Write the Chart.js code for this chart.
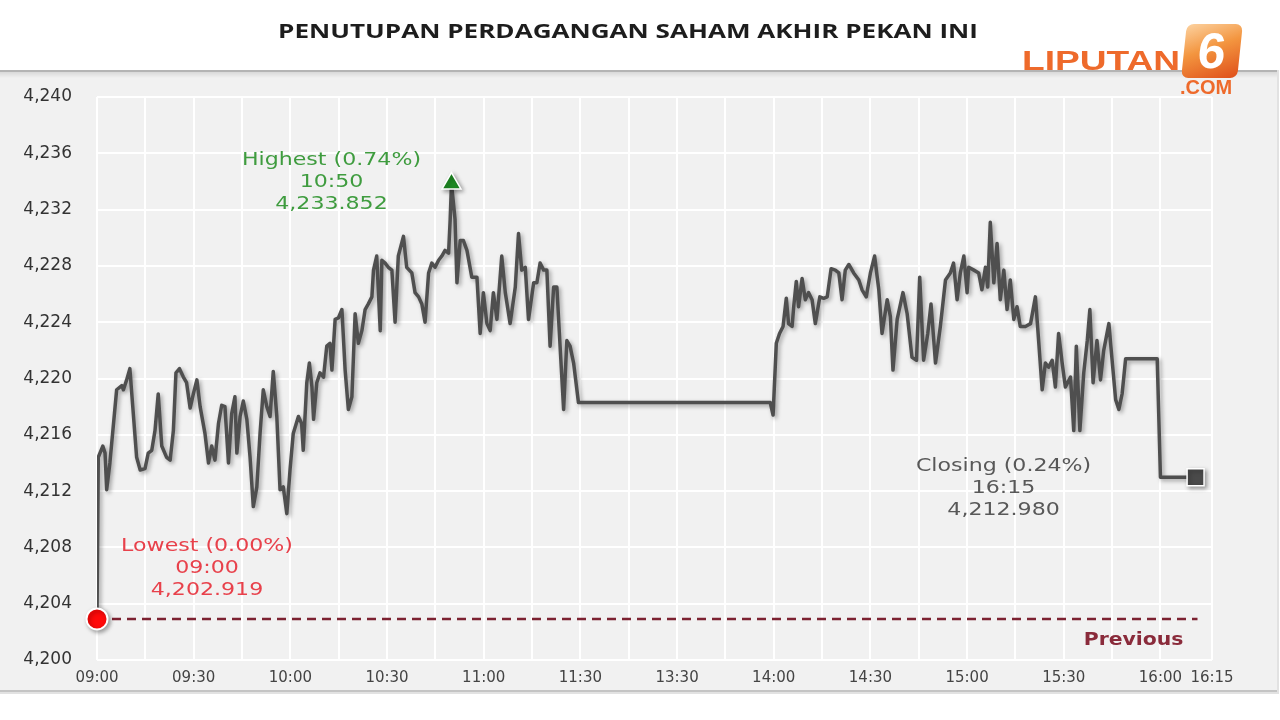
<!DOCTYPE html>
<html>
<head>
<meta charset="utf-8">
<title>Penutupan Perdagangan Saham Akhir Pekan Ini</title>
<script src="https://cdn.jsdelivr.net/npm/chart.js@4.4.1/dist/chart.umd.min.js"></script>
<style>
  html, body { margin: 0; padding: 0; background: #fff; }
  #wrap { position: relative; width: 1280px; height: 720px; overflow: hidden; }
  #chart { position: absolute; left: 0; top: 0; }
  #title {
    position: absolute; top: 18px; left: 628px;
    font-family: "Open Sans", sans-serif; font-weight: 700; font-size: 19px;
    color: #1d1d1d; white-space: nowrap; transform-origin: center;
  }
  .logo { position: absolute; color: #ee6a2b; font-family: "Liberation Sans", Arial, sans-serif; font-weight: 700; white-space: nowrap; }
  #lip { left: 1022px; top: 46px; font-size: 27px; transform-origin: left center; }
  #six {
    left: 1184px; top: 24px; width: 56px; height: 54px; border-radius: 7px;
    background: linear-gradient(160deg, #fcd2a0 0%, #f3953f 45%, #df4f1a 100%);
    color: #fff; font-size: 50px; line-height: 54px; text-align: center;
    transform: skewX(-6deg);
  }
  #com { left: 1180px; top: 76px; font-size: 20px; z-index: 2; }
</style>
</head>
<body>
<div id="wrap">
  <canvas id="chart" width="1280" height="720"></canvas>
  <div id="title">PENUTUPAN PERDAGANGAN SAHAM AKHIR PEKAN INI</div>
  <div class="logo" id="six">6</div>
  <div class="logo" id="lip">LIPUTAN</div>
  <div class="logo" id="com">.COM</div>
</div>
<script>
// minutes from 09:00 on the session axis (lunch break 11:30-13:30 folded into one 30 min slot)
var sessionMinutes = [
  0, 0.4, 1.8, 2.5, 3.0, 4.0, 6.1, 7.7, 8.2, 9.2, 10.2, 11.1, 12.3, 13.4, 14.9, 15.9, 17.0, 18.0, 19.0, 20.1,
  21.6, 22.7, 23.7, 24.5, 25.6, 26.8, 27.8, 28.9, 29.9, 31.0, 32.0, 33.5, 34.6, 35.6, 36.6, 37.7, 38.7, 39.7, 40.8, 41.8,
  42.8, 43.4, 44.4, 45.4, 46.5, 47.5, 48.5, 49.6, 50.6, 51.6, 52.7, 53.7, 54.7, 55.8, 56.8, 57.8, 58.9, 59.9, 60.9, 62.5,
  63.5, 64.0, 65.1, 65.9, 66.7, 67.2, 68.2, 69.2, 70.3, 71.3, 72.3, 72.9, 73.9, 74.9, 76.0, 77.0, 78.0, 79.1, 80.1, 81.1,
  82.2, 83.2, 84.2, 85.3, 85.8, 86.8, 87.9, 88.4, 89.4, 90.4, 91.5, 92.5, 93.5, 95.1, 96.1, 97.7, 98.7, 99.8, 100.8, 101.8,
  102.9, 103.9, 104.9, 106.0, 107.0, 108.0, 109.1, 109.6, 110.0, 111.1, 111.7, 112.7, 113.7, 114.8, 116.3, 117.9, 118.9, 119.9, 121.0, 122.0,
  123.0, 124.1, 125.6, 126.7, 128.2, 129.8, 130.8, 131.8, 132.9, 133.9, 135.5, 136.5, 137.5, 138.6, 139.6, 140.6, 141.7, 142.7, 143.7, 144.8,
  145.8, 146.8, 147.9, 149.4, 208.9, 209.8, 210.8, 211.8, 212.9, 213.9, 214.6, 215.7, 216.2, 217.0, 217.7, 218.8, 219.8, 220.8, 221.9, 222.9,
  224.3, 225.5, 226.6, 227.8, 229.1, 230.2, 231.2, 232.2, 233.3, 234.8, 236.4, 237.4, 238.7, 240.0, 241.3, 242.6, 243.6, 245.2, 246.2, 247.0,
  248.3, 250.1, 251.4, 252.9, 254.3, 255.3, 256.5, 257.8, 258.8, 260.2, 261.7, 263.3, 264.8, 265.8, 266.9, 267.9, 269.0, 270.0, 270.5, 272.1,
  273.6, 274.6, 275.7, 276.4, 277.2, 278.3, 279.3, 280.3, 281.4, 282.4, 283.4, 284.5, 285.5, 286.5, 288.1, 289.7, 291.2, 292.2, 293.3, 294.3,
  295.3, 296.4, 297.4, 298.4, 299.5, 300.5, 302.1, 303.1, 303.9, 305.0, 306.2, 307.3, 308.1, 309.1, 310.3, 311.4, 312.4, 314.0, 315.0, 316.1,
  317.1, 318.1, 319.2, 329.0, 330.0, 340.9
];
var indexValues = [
  4202.919, 4214.4, 4215.2, 4214.7, 4212.1, 4214.0, 4219.2, 4219.5, 4219.2, 4219.9, 4220.7, 4218.0, 4214.4, 4213.5, 4213.6, 4214.7, 4214.9, 4216.3, 4218.9, 4215.2,
  4214.4, 4214.2, 4216.3, 4220.4, 4220.7, 4220.1, 4219.7, 4217.9, 4218.9, 4219.9, 4218.0, 4216.1, 4214.0, 4215.2, 4214.2, 4216.8, 4218.1, 4218.0, 4214.0, 4217.5,
  4218.7, 4214.7, 4217.3, 4218.4, 4217.1, 4214.4, 4210.9, 4212.3, 4216.1, 4219.2, 4218.0, 4217.3, 4220.5, 4217.3, 4212.1, 4212.3, 4210.4, 4213.5, 4216.1, 4217.3,
  4216.8, 4214.9, 4219.7, 4221.1, 4219.4, 4217.1, 4219.7, 4220.4, 4220.1, 4222.3, 4222.5, 4220.6, 4224.2, 4224.3, 4224.9, 4220.6, 4217.8, 4218.7, 4224.6, 4222.5,
  4223.4, 4224.9, 4225.3, 4225.8, 4227.7, 4228.7, 4223.4, 4228.4, 4228.2, 4227.9, 4227.7, 4224.0, 4228.7, 4230.1, 4227.9, 4227.5, 4226.1, 4225.8, 4225.3, 4224.0,
  4227.5, 4228.2, 4227.9, 4228.4, 4228.7, 4229.1, 4228.9, 4231.3, 4233.852, 4231.3, 4226.8, 4229.8, 4229.8, 4229.1, 4227.2, 4227.2, 4223.2, 4226.1, 4223.9, 4223.4,
  4226.1, 4224.2, 4228.7, 4226.1, 4223.9, 4226.5, 4230.3, 4227.7, 4227.9, 4224.2, 4226.8, 4226.8, 4228.2, 4227.7, 4227.7, 4222.3, 4226.5, 4226.5, 4222.3, 4217.8,
  4222.7, 4222.3, 4221.1, 4218.3, 4218.3, 4217.4, 4222.5, 4223.2, 4223.7, 4225.7, 4223.9, 4223.7, 4225.1, 4226.9, 4225.1, 4227.1, 4225.6, 4226.1, 4225.6, 4223.9,
  4225.8, 4225.7, 4225.8, 4227.8, 4227.7, 4227.5, 4225.6, 4227.7, 4228.1, 4227.5, 4227.0, 4226.3, 4225.8, 4227.5, 4228.7, 4226.3, 4223.2, 4225.6, 4224.4, 4220.6,
  4224.2, 4226.1, 4224.6, 4221.5, 4221.3, 4227.2, 4221.3, 4223.2, 4225.3, 4221.1, 4223.7, 4227.0, 4227.5, 4228.2, 4225.6, 4227.5, 4228.7, 4226.1, 4227.9, 4227.7,
  4227.5, 4226.3, 4227.9, 4226.5, 4231.1, 4226.8, 4229.6, 4225.6, 4227.7, 4224.9, 4227.0, 4224.2, 4225.1, 4223.7, 4223.7, 4223.9, 4225.8, 4222.7, 4219.2, 4221.1,
  4220.8, 4221.3, 4219.4, 4223.2, 4221.1, 4219.4, 4220.1, 4216.3, 4222.3, 4216.3, 4220.4, 4222.7, 4224.9, 4219.7, 4222.7, 4219.9, 4222.0, 4223.9, 4221.3, 4218.5,
  4217.8, 4218.9, 4221.4, 4221.4, 4212.98, 4212.98
];

var xTickMinutes = [0, 30, 60, 90, 120, 150, 180, 210, 240, 270, 300, 330, 346];
var xTickLabels = ["09:00", "09:30", "10:00", "10:30", "11:00", "11:30", "13:30", "14:00", "14:30", "15:00", "15:30", "16:00", "16:15"];
var gridMinutes = [0, 15, 30, 45, 60, 75, 90, 105, 120, 135, 150, 165, 180, 195, 210, 225, 240, 255, 270, 285, 300, 315, 330, 346];

var highPoint = [110, 4233.852];
var lowPoint = [0, 4202.919];
var closePoint = [340.9, 4212.98];
var previousClose = 4202.919;

var highText = ["Highest (0.74%)", "10:50", "4,233.852"];
var lowText = ["Lowest (0.00%)", "09:00", "4,202.919"];
var closeText = ["Closing (0.24%)", "16:15", "4,212.980"];

// fit title to the width it has in the picture
var titleEl = document.getElementById("title");
titleEl.style.transform = "translateX(-50%) scaleX(" + (700 / titleEl.offsetWidth) + ")";
var lipEl = document.getElementById("lip");
lipEl.style.transform = "scaleX(" + (158 / lipEl.offsetWidth) + ")";

var background = {
  id: "background",
  beforeDraw: function (chart) {
    var ctx = chart.ctx;
    ctx.save();
    ctx.fillStyle = "#ffffff";
    ctx.fillRect(0, 0, chart.width, chart.height);
    ctx.fillStyle = "#f1f1f1";
    ctx.fillRect(0, 71, 1277, 620);
    ctx.fillStyle = "#b4b4b4";
    ctx.fillRect(0, 70, 1277, 2);
    var g = ctx.createLinearGradient(0, 72, 0, 78);
    g.addColorStop(0, "#d9d9d9");
    g.addColorStop(1, "#f1f1f1");
    ctx.fillStyle = g;
    ctx.fillRect(0, 72, 1277, 6);
    ctx.fillStyle = "#c4c4c4";
    ctx.fillRect(0, 690, 1277, 2);
    ctx.fillStyle = "#e2e2e2";
    ctx.fillRect(0, 692, 1279, 2);
    ctx.fillRect(1277, 70, 2, 622);
    ctx.restore();
  }
};

var shadows = {
  id: "shadows",
  beforeDatasetDraw: function (chart, args) {
    var ds = chart.data.datasets[args.index];
    if (!ds.shadow) return;
    var ctx = chart.ctx;
    ctx.save();
    ctx.shadowColor = "rgba(0,0,0,0.35)";
    ctx.shadowBlur = 4;
    ctx.shadowOffsetX = 2;
    ctx.shadowOffsetY = 2;
  },
  afterDatasetDraw: function (chart, args) {
    if (chart.data.datasets[args.index].shadow) chart.ctx.restore();
  }
};

var annotate = {
  id: "annotate",
  afterDatasetsDraw: function (chart) {
    var ctx = chart.ctx;
    var x = chart.scales.x, y = chart.scales.y;
    function block(lines, cx, cy, color) {
      ctx.save();
      ctx.font = '17px "DejaVu Sans"';
      ctx.fillStyle = color;
      ctx.textAlign = "center";
      ctx.textBaseline = "middle";
      lines.forEach(function (t, i) {
        ctx.save();
        ctx.translate(cx, cy + i * 22);
        ctx.scale(1.3, 1);
        ctx.fillText(t, 0, 0);
        ctx.restore();
      });
      ctx.restore();
    }
    block(highText, x.getPixelForValue(highPoint[0]) - 120, y.getPixelForValue(highPoint[1]) - 23, "#3f9c3f");
    block(lowText, x.getPixelForValue(lowPoint[0]) + 110, y.getPixelForValue(lowPoint[1]) - 72, "#e8414b");
    block(closeText, x.getPixelForValue(closePoint[0]) - 192, y.getPixelForValue(closePoint[1]) - 11, "#585858");

    ctx.save();
    ctx.font = 'bold 17px "DejaVu Sans"';
    ctx.fillStyle = "#8a2b3b";
    ctx.textAlign = "right";
    ctx.textBaseline = "middle";
    ctx.translate(x.getPixelForValue(341.5) - 14, y.getPixelForValue(previousClose) + 22);
    ctx.scale(1.2, 1);
    ctx.fillText("Previous", 0, 0);
    ctx.restore();
  }
};

var lineData = sessionMinutes.map(function (m, i) { return { x: m, y: indexValues[i] }; });

new Chart(document.getElementById("chart"), {
  type: "line",
  data: {
    datasets: [
      {
        label: "Highest",
        data: [{ x: highPoint[0], y: highPoint[1] }],
        showLine: false,
        pointStyle: "triangle",
        pointRadius: 11,
        backgroundColor: "#1f8a24",
        borderColor: "#ffffff",
        borderWidth: 1.5,
        clip: false,
        shadow: true,
        order: 0
      },
      {
        label: "Lowest",
        data: [{ x: lowPoint[0], y: lowPoint[1] }],
        showLine: false,
        pointStyle: "circle",
        pointRadius: 10.5,
        backgroundColor: "#ff0a0a",
        borderColor: "#ffffff",
        borderWidth: 2,
        clip: false,
        shadow: true,
        order: 0
      },
      {
        label: "Closing",
        data: [{ x: closePoint[0], y: closePoint[1] }],
        showLine: false,
        pointStyle: "rect",
        pointRadius: 12,
        backgroundColor: "#4a4a4a",
        borderColor: "#ffffff",
        borderWidth: 1.5,
        clip: false,
        shadow: true,
        order: 0
      },
      {
        label: "IHSG",
        data: lineData,
        borderColor: "#4f4f4f",
        borderWidth: 3.5,
        borderJoinStyle: "round",
        pointRadius: 0,
        tension: 0,
        shadow: true,
        order: 1
      },
      {
        label: "Previous",
        data: [{ x: 0, y: previousClose }, { x: 341.5, y: previousClose }],
        borderColor: "#7c2231",
        borderWidth: 2.5,
        borderDash: [9, 6],
        pointRadius: 0,
        order: 2
      }
    ]
  },
  options: {
    responsive: false,
    animation: false,
    layout: { padding: { left: 0, top: 97, right: 68, bottom: 30 } },
    plugins: {
      legend: { display: false },
      tooltip: { enabled: false }
    },
    scales: {
      x: {
        type: "linear",
        min: 0,
        max: 346,
        afterBuildTicks: function (scale) {
          scale.ticks = gridMinutes.map(function (v) { return { value: v }; });
        },
        afterFit: function (scale) { scale.height = 30; },
        grid: { color: "#ffffff", lineWidth: 2, drawTicks: false },
        border: { display: false },
        ticks: {
          autoSkip: false,
          maxRotation: 0,
          padding: 9,
          color: "#444444",
          font: { family: "DejaVu Sans", size: 15 },
          callback: function (value) {
            var i = xTickMinutes.indexOf(value);
            return i >= 0 ? xTickLabels[i] : "";
          }
        }
      },
      y: {
        min: 4200,
        max: 4240,
        afterFit: function (scale) { scale.width = 97; },
        grid: { color: "#ffffff", lineWidth: 2, drawTicks: false },
        border: { display: false },
        ticks: {
          stepSize: 4,
          padding: 25,
          color: "#333333",
          font: { family: "DejaVu Sans", size: 17 },
          callback: function (value) { return value.toLocaleString("en-US"); }
        }
      }
    }
  },
  plugins: [background, shadows, annotate]
});
</script>
</body>
</html>
